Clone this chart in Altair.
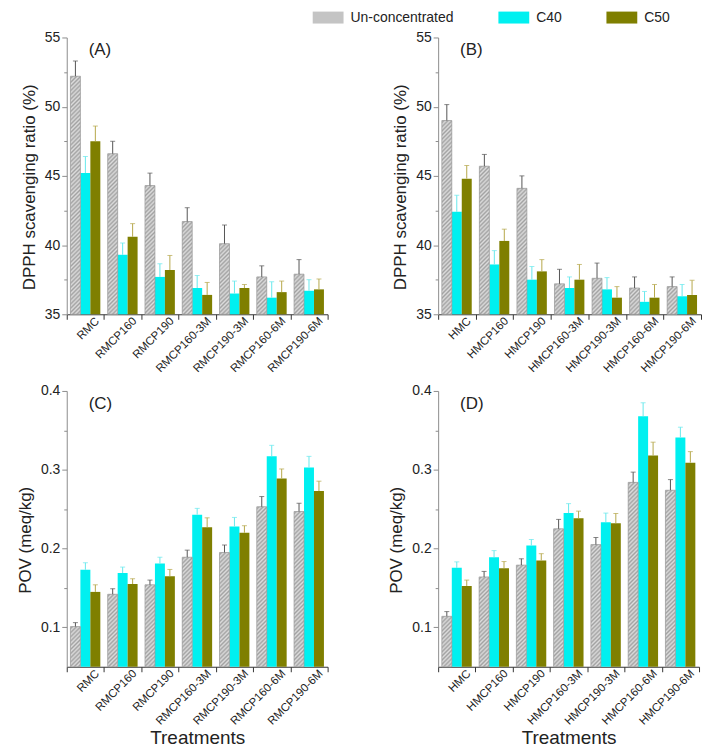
import altair as alt
import pandas as pd

FONT = "Liberation Sans"
SERIES = ["Un-concentrated", "C40", "C50"]
BAR_COLORS = ["#c4c4c4", "#00f0f0", "#7f7f00"]
ERR_COLORS = ["#555555", "#66e8ec", "#b5a74a"]

cats_R = ["RMC", "RMCP160", "RMCP190", "RMCP160-3M", "RMCP190-3M", "RMCP160-6M", "RMCP190-6M"]
cats_H = ["HMC", "HMCP160", "HMCP190", "HMCP160-3M", "HMCP190-3M", "HMCP160-6M", "HMCP190-6M"]

# (A) DPPH scavenging ratio, RMC series
A_un = [52.2, 46.6, 44.3, 41.7, 40.1, 37.7, 37.9]
A_un_err = [1.1, 0.9, 0.9, 1.0, 1.35, 0.8, 1.05]
A_c40 = [45.2, 39.3, 37.7, 36.9, 36.5, 36.2, 36.7]
A_c40_err = [1.2, 0.85, 0.95, 0.9, 0.9, 1.15, 0.8]
A_c50 = [47.5, 40.6, 38.2, 36.4, 36.9, 36.6, 36.8]
A_c50_err = [1.1, 0.95, 1.05, 0.9, 0.25, 0.8, 0.75]

# (B) DPPH scavenging ratio, HMC series
B_un = [49.0, 45.7, 44.1, 37.2, 37.6, 36.9, 37.0]
B_un_err = [1.15, 0.85, 0.9, 1.05, 1.1, 0.8, 0.7]
B_c40 = [42.4, 38.6, 37.5, 36.9, 36.8, 35.9, 36.3]
B_c40_err = [1.2, 1.0, 0.95, 0.8, 0.85, 0.75, 0.85]
B_c50 = [44.8, 40.3, 38.1, 37.5, 36.2, 36.2, 36.4]
B_c50_err = [0.95, 0.85, 0.85, 1.1, 0.8, 0.95, 1.05]

# (C) POV, RMC series
C_un = [0.101, 0.142, 0.154, 0.189, 0.195, 0.253, 0.247]
C_un_err = [0.005, 0.007, 0.006, 0.009, 0.0095, 0.013, 0.0105]
C_c40 = [0.173, 0.169, 0.181, 0.243, 0.228, 0.317, 0.303]
C_c40_err = [0.009, 0.0075, 0.008, 0.008, 0.0115, 0.014, 0.014]
C_c50 = [0.145, 0.155, 0.165, 0.227, 0.220, 0.289, 0.273]
C_c50_err = [0.009, 0.0067, 0.0085, 0.012, 0.009, 0.012, 0.0125]

# (D) POV, HMC series
D_un = [0.114, 0.164, 0.179, 0.225, 0.205, 0.284, 0.274]
D_un_err = [0.006, 0.007, 0.008, 0.012, 0.009, 0.013, 0.0135]
D_c40 = [0.1755, 0.189, 0.204, 0.245, 0.2335, 0.368, 0.341]
D_c40_err = [0.0076, 0.0084, 0.0075, 0.012, 0.0115, 0.017, 0.013]
D_c50 = [0.1525, 0.175, 0.185, 0.2385, 0.232, 0.318, 0.309]
D_c50_err = [0.0075, 0.0085, 0.0085, 0.009, 0.0125, 0.017, 0.014]

DPPH_TICKS = [35, 37.5, 40, 42.5, 45, 47.5, 50, 52.5, 55]
POV_TICKS = [0.1, 0.15, 0.2, 0.25, 0.3, 0.35, 0.4]

OUTER = 0.37  # outer padding of the 3-bar group inside each category


def hatch_gradient(w, h, period=4.2, light="#dcdcdc", dark="#a2a2a2"):
    L = w + h
    a = w * L / (w * w + h * h)
    b = h * L / (w * w + h * h)
    stops = []
    k = 0
    while True:
        s = k * period / 2.0
        stops.append({"offset": round(min(s / L, 1.0), 5),
                      "color": light if k % 2 == 0 else dark})
        if s >= L:
            break
        k += 1
    return {"gradient": "linear", "x1": 0, "y1": 0,
            "x2": round(a, 5), "y2": round(b, 5), "stops": stops}


def panel(label, cats, un, un_e, c40, c40_e, c50, c50_e, dom, ticks,
          kind, W, H, ytitle, xtitle):
    rows = []
    for i, c in enumerate(cats):
        for s, v, e in ((SERIES[0], un[i], un_e[i]),
                        (SERIES[1], c40[i], c40_e[i]),
                        (SERIES[2], c50[i], c50_e[i])):
            rows.append({"cat": c, "series": s, "value": v, "hi": v + e})
    df = pd.DataFrame(rows)

    if kind == "dpph":
        minor_test = "datum.value % 5 !== 0"
        lab_expr = "datum.value % 5 === 0 ? format(datum.value, 'd') : ''"
    else:
        minor_test = "abs(datum.value * 10 - round(datum.value * 10)) > 0.001"
        lab_expr = ("abs(datum.value * 10 - round(datum.value * 10)) < 0.001 ? "
                    "format(datum.value, '.1f') : ''")

    x = alt.X("cat:N", sort=cats, title=xtitle,
              scale=alt.Scale(paddingInner=0, paddingOuter=0),
              axis=alt.Axis(tickBand="extent", labelAngle=-45, labelFontSize=11.5,
                            labelAlign="right", labelBaseline="middle",
                            labelOffset=12, labelPadding=0,
                            labelColor="#222222", labelFont=FONT, domainColor="#333333",
                            tickColor="#333333", tickSize=5,
                            titleFontSize=19, titleFont=FONT, titleFontWeight="normal",
                            titleColor="#222222", titleY=62))
    xo = alt.XOffset("series:N", sort=SERIES,
                     scale=alt.Scale(domain=SERIES, paddingInner=0, paddingOuter=OUTER))
    yaxis = alt.Axis(values=ticks, labelExpr=lab_expr, labelFontSize=14,
                     labelColor="#222222", labelFont=FONT, domainColor="#8c8c8c",
                     tickColor="#8c8c8c",
                     tickSize={"condition": {"test": minor_test, "value": 3}, "value": 5},
                     labelPadding=2, title=ytitle, titleFontSize=17, titleFont=FONT,
                     titleFontWeight="normal", titleColor="#222222", titlePadding=6,
                     titleY=H / 2 + 11, grid=False)
    yscale = alt.Scale(domain=dom, nice=False, zero=False)

    base = alt.Chart(df)
    bars = base.mark_bar().encode(
        x=x, xOffset=xo,
        y=alt.Y("value:Q", scale=yscale, axis=yaxis),
        y2=alt.Y2Datum(dom[0]),
        fill=alt.Fill("series:N", sort=SERIES,
                      scale=alt.Scale(domain=SERIES, range=BAR_COLORS),
                      legend=alt.Legend(orient="none", legendX=255.5, legendY=-27,
                                        direction="horizontal", title=None,
                                        symbolType="M-2.58,-1H2.58V1H-2.58Z",
                                        symbolSize=144, symbolStrokeWidth=0,
                                        labelFontSize=14, labelFont=FONT,
                                        labelColor="#222222", labelOffset=15.5,
                                        columnPadding=43.5)),
    )

    bw = (W / len(cats)) / (3 + 2 * OUTER)
    conds = []
    for c, v in zip(cats, un):
        h = (v - dom[0]) / (dom[1] - dom[0]) * H
        conds.append({"test": "datum.cat === '%s'" % c, "value": hatch_gradient(bw, h)})
    hatch = base.transform_filter(alt.datum.series == SERIES[0]).mark_bar(
        stroke="#9c9c9c", strokeWidth=0.7).encode(
        x=x, xOffset=xo,
        y=alt.Y("value:Q", scale=yscale, axis=yaxis),
        y2=alt.Y2Datum(dom[0]),
        fill=alt.FillValue(value="#c4c4c4", condition=conds),
    )
    errc = alt.Color("series:N", sort=SERIES,
                     scale=alt.Scale(domain=SERIES, range=ERR_COLORS), legend=None)
    rules = base.mark_rule(strokeWidth=1).encode(
        x=x, xOffset=xo,
        y=alt.Y("value:Q", scale=yscale, axis=yaxis),
        y2=alt.Y2("hi:Q"),
        color=errc,
    )
    caps = base.mark_tick(size=5, thickness=1).encode(
        x=x, xOffset=xo,
        y=alt.Y("hi:Q", scale=yscale, axis=yaxis),
        color=errc,
    )
    return alt.layer(bars, hatch, rules, caps).properties(
        width=W, height=H,
        title=alt.TitleParams(label, anchor="start", frame="group", dx=22, offset=-29,
                              fontSize=17, fontWeight="normal", font=FONT,
                              color="#222222"),
    )


DPPH = "DPPH scavenging ratio (%)"
POV = "POV (meq/kg)"

pA = panel("(A)", cats_R, A_un, A_un_err, A_c40, A_c40_err, A_c50, A_c50_err,
           [35, 55], DPPH_TICKS, "dpph", 262, 278, DPPH, None)
pB = panel("(B)", cats_H, B_un, B_un_err, B_c40, B_c40_err, B_c50, B_c50_err,
           [35, 55], DPPH_TICKS, "dpph", 264, 278, DPPH, None)
pC = panel("(C)", cats_R, C_un, C_un_err, C_c40, C_c40_err, C_c50, C_c50_err,
           [0.05, 0.4], POV_TICKS, "pov", 262, 277, POV, "Treatments")
pD = panel("(D)", cats_H, D_un, D_un_err, D_c40, D_c40_err, D_c50, D_c50_err,
           [0.05, 0.4], POV_TICKS, "pov", 262, 277, POV, "Treatments")

chart = alt.concat(pA, pB, pC, pD, columns=2, bounds="flush",
                   spacing={"row": 77, "column": 111}).properties(
    padding={"left": 8, "top": 1, "right": 2, "bottom": 2},
    background="white",
).configure_view(strokeWidth=0).configure_axis(grid=False)

chart.save("out.html", embed_options={"renderer": "svg", "actions": False})
